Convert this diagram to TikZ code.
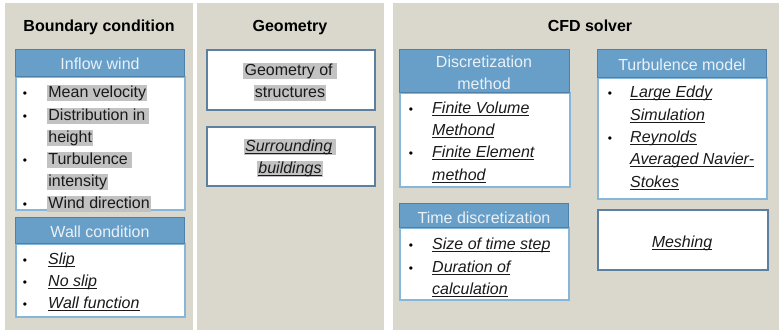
\documentclass[tikz,border=0pt]{standalone}
\usepackage{fontspec}
\setmainfont{Liberation Sans}
\newcommand\myul[1]{\leavevmode\setbox0\hbox{\itshape #1}\rlap{\rule[-2.6pt]{\wd0}{0.8pt}}\box0}
\definecolor{panelc}{HTML}{DAD8CC}
\definecolor{headc}{HTML}{689FC9}
\definecolor{headd}{HTML}{4F80AA}
\definecolor{bodyd}{HTML}{86B6DA}
\definecolor{geod}{HTML}{5E80A0}
\definecolor{hlc}{HTML}{C2C2C2}
\definecolor{headtxt}{HTML}{EAF1F7}
\definecolor{txtc}{HTML}{1A1A1A}
\tikzset{
  panelbox/.style={fill=panelc, draw=none, anchor=north west, inner sep=0pt, outer sep=0pt},
  headbox/.style={fill=headc, draw=headd, line width=1.2pt, anchor=north west, inner sep=0pt},
  bodybox/.style={fill=white, draw=bodyd, line width=1.5pt, anchor=north west, inner sep=0pt},
  plainbox/.style={fill=white, draw=geod, line width=1.5pt, anchor=north west, inner sep=0pt},
  ttl/.style={font=\fontsize{16}{19}\selectfont\bfseries, text=black, anchor=base, inner sep=0pt},
  htxt/.style={font=\fontsize{16}{19}\selectfont, text=headtxt, anchor=base, inner sep=0pt},
  itm/.style={font=\fontsize{16}{19}\selectfont, text=txtc, anchor=base west, inner sep=0pt},
  hl/.style={itm, fill=hlc, inner xsep=1.2pt, inner ysep=0pt, text height=12pt, text depth=4pt},
  hlc/.style={hl, anchor=base},
  bul/.style={font=\fontsize{12}{14}\selectfont, text=black, anchor=base, inner sep=0pt},
}
\begin{document}
\begin{tikzpicture}[x=1pt,y=-1pt]
\useasboundingbox (0,0) rectangle (779,330);
\fill[white] (0,0) rectangle (779,330);
% panels
\node[panelbox, minimum width=188pt, minimum height=327pt] (pbc) at (5,3) {};
\node[panelbox, minimum width=187pt, minimum height=327pt] (pgeo) at (197,3) {};
\node[panelbox, minimum width=386pt, minimum height=327pt] (pcfd) at (393,3) {};
% titles
\node[ttl] (tbc) at (99,31) {Boundary condition};
\node[ttl] (tgeo) at (290,31) {Geometry};
\node[ttl] (tcfd) at (590,31) {CFD solver};

% Inflow wind
\node[bodybox, minimum width=169pt, minimum height=133pt] (inb) at (15,76) {};
\node[headbox, minimum width=169pt, minimum height=27pt] (inh) at (15,49) {};
\node[htxt] (inht) at (100,69) {Inflow wind};
\node[bul] (b1) at (25,97) {\textbullet};
\node[hl] (i1) at (47,97) {Mean velocity};
\node[bul] (b2) at (25,120) {\textbullet};
\node[hl] (i2) at (47,120) {Distribution in\,};
\node[hl] (i3) at (47,142) {height};
\node[bul] (b3) at (25,164) {\textbullet};
\node[hl] (i4) at (47,164) {Turbulence\,};
\node[hl] (i5) at (47,186) {intensity};
\node[bul] (b4) at (25,208) {\textbullet};
\node[hl] (i6) at (47,208) {Wind direction};

% Wall condition
\node[bodybox, minimum width=169pt, minimum height=73pt] (wb) at (15,243) {};
\node[headbox, minimum width=169pt, minimum height=26pt] (wh) at (15,217) {};
\node[htxt] (wht) at (100,237) {Wall condition};
\node[bul] (b5) at (25,264) {\textbullet};
\node[itm] (w1) at (48,264) {\myul{Slip}};
\node[bul] (b6) at (25,286) {\textbullet};
\node[itm] (w2) at (48,286) {\myul{No slip}};
\node[bul] (b7) at (25,308) {\textbullet};
\node[itm] (w3) at (48,308) {\myul{Wall function}};

% Geometry
\node[plainbox, minimum width=168pt, minimum height=60pt] (g1) at (206,49) {};
\node[hlc] (g1a) at (290,75) {Geometry of\,};
\node[hlc] (g1b) at (290,97) {structures};
\node[plainbox, minimum width=168pt, minimum height=59pt] (g2) at (206,126) {};
\node[hlc] (g2a) at (290,151) {\myul{Surrounding}\,};
\node[hlc] (g2b) at (290,173) {\myul{buildings}};

% Discretization method
\node[bodybox, minimum width=170pt, minimum height=94pt] (db) at (399,92) {};
\node[headbox, minimum width=170pt, minimum height=43pt] (dh) at (399,49) {};
\node[htxt] (dht1) at (484,67) {Discretization};
\node[htxt] (dht2) at (484,89) {method};
\node[bul] (b8) at (411,113) {\textbullet};
\node[itm] (d1) at (432,113) {\myul{Finite Volume}};
\node[itm] (d2) at (432,135) {\myul{Methond}};
\node[bul] (b9) at (411,157) {\textbullet};
\node[itm] (d3) at (432,157) {\myul{Finite Element}};
\node[itm] (d4) at (432,180) {\myul{method}};

% Turbulence model
\node[bodybox, minimum width=169pt, minimum height=121pt] (tb) at (597,77) {};
\node[headbox, minimum width=169pt, minimum height=28pt] (th) at (597,49) {};
\node[htxt] (tht) at (682,70) {Turbulence model};
\node[bul] (b10) at (610,97) {\textbullet};
\node[itm] (t1) at (630,97) {\myul{Large Eddy}};
\node[itm] (t2) at (630,120) {\myul{Simulation}};
\node[bul] (b11) at (610,142) {\textbullet};
\node[itm] (t3) at (630,142) {\myul{Reynolds}};
\node[itm] (t4) at (630,164) {\myul{Averaged Navier-}};
\node[itm] (t5) at (630,187) {\myul{Stokes}};

% Time discretization
\node[bodybox, minimum width=169pt, minimum height=72pt] (zb) at (399,227) {};
\node[headbox, minimum width=169pt, minimum height=24pt] (zh) at (399,203) {};
\node[htxt] (zht) at (484,223) {Time discretization};
\node[bul] (b12) at (411,249) {\textbullet};
\node[itm] (z1) at (432,249) {\myul{Size of time step}};
\node[bul] (b13) at (411,272) {\textbullet};
\node[itm] (z2) at (432,272) {\myul{Duration of}};
\node[itm] (z3) at (432,294) {\myul{calculation}};

% Meshing
\node[plainbox, minimum width=170pt, minimum height=60pt] (mb) at (597,209) {};
\node[itm, anchor=base] (mt) at (682,247) {\myul{Meshing}};
\end{tikzpicture}
\end{document}
